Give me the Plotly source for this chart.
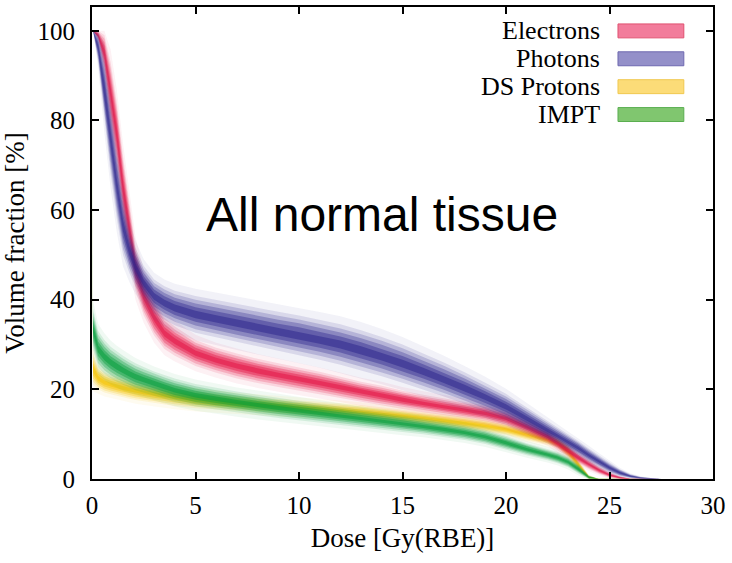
import plotly.graph_objects as go

# dose grid [Gy(RBE)] shared by all bands
DOSE = [0, 0.05, 0.3, 0.6, 0.9, 1.2, 1.5, 1.8, 2.1, 2.5, 3, 3.5, 4, 5, 6, 7, 8, 9, 10,
        11, 12, 13, 14, 15, 16, 17, 18, 19, 20, 21, 22, 22.5, 23, 23.5, 24, 24.5, 25,
        25.5, 26, 26.5, 27, 27.5]

# upper / lower edge of each DVH band (volume fraction %)
ELEC_HI = [100, 100, 100, 99, 93, 84, 72, 62, 52, 45, 40, 36, 34, 31, 29.3, 28, 26.8, 25.8, 24.9,
           23.9, 22.8, 21.7, 20.8, 19.7, 18.8, 18, 17.2, 16.4, 15.2, 13.2, 11, 9.4, 7.6, 5.8, 4.3,
           2.8, 1.5, 0.6, 0.1, 0, 0, 0]
ELEC_LO = [100, 100, 98, 91, 79, 70, 58, 50, 42, 36.5, 32, 29, 27.5, 25.2, 23.7, 22.4, 21.4, 20.5,
           19.7, 18.9, 18.1, 17.2, 16.4, 15.6, 14.9, 14.2, 13.6, 12.9, 11.8, 10, 8, 6.4, 5, 3.5,
           2.2, 1.1, 0.3, 0, 0, 0, 0, 0]

PHOT_HI = [100, 100, 99.5, 94, 84, 73, 63, 56, 51.5, 47.5, 44.5, 43, 42, 40.8, 39.9, 39, 38.2,
           37.3, 36.5, 35.5, 34.5, 33.2, 31.7, 30, 28, 26, 23.8, 21.5, 19, 16, 13, 11.5, 10, 8.5,
           6.8, 5.2, 3.6, 2.2, 1.1, 0.5, 0.2, 0]
PHOT_LO = [100, 100, 93, 80, 68, 58, 50, 46, 43, 40, 37, 35.5, 34.3, 32.6, 31.5, 30.5, 29.5, 28.5,
           27.6, 26.6, 25.5, 24.2, 22.9, 21.5, 20, 18.4, 16.8, 15, 13.2, 11, 8.8, 7.8, 6.6, 5.2,
           3.8, 2.5, 1.4, 0.6, 0.2, 0, 0, 0]

DSP_HI = [100, 28, 25, 23.8, 23.2, 22.8, 22.4, 22, 21.7, 21.3, 20.9, 20.5, 20.1, 19.5, 19, 18.6,
          18.2, 17.9, 17.6, 17.2, 16.9, 16.5, 16, 15.5, 15, 14.4, 13.9, 13.2, 12.3, 11.2, 10, 9.2,
          7.5, 4.2, 0.8, 0, 0, 0, 0, 0, 0, 0]
DSP_LO = [100, 21, 20, 19.3, 18.9, 18.5, 18.2, 17.9, 17.6, 17.3, 16.9, 16.6, 16.3, 15.8, 15.4,
          15.1, 14.8, 14.5, 14.3, 14, 13.7, 13.4, 13, 12.6, 12.1, 11.6, 11.1, 10.5, 9.8, 8.6, 7.6,
          7, 4.8, 2, 0, 0, 0, 0, 0, 0, 0, 0]

IMPT_HI = [100, 38, 33, 31, 29.5, 28.4, 27.5, 26.6, 25.8, 25, 24, 23.2, 22.4, 21.2, 20.3, 19.5,
           18.8, 18.1, 17.4, 16.7, 16, 15.4, 14.8, 14.2, 13.5, 12.8, 12, 11, 9.6, 8, 6.7, 6, 5,
           3.3, 0.8, 0, 0, 0, 0, 0, 0, 0]
IMPT_LO = [100, 29, 25, 23.5, 22.5, 21.7, 21, 20.4, 19.8, 19.2, 18.6, 17.9, 17.2, 16.2, 15.5,
           14.8, 14.2, 13.6, 13.1, 12.6, 12, 11.5, 11, 10.5, 10, 9.4, 8.7, 7.8, 6.6, 5.3, 4.2,
           3.5, 2.6, 1.2, 0, 0, 0, 0, 0, 0, 0, 0]

LEGEND_NAMES = ["Electrons", "Photons", "DS Protons", "IMPT"]
Y_TICKS = [0, 20, 40, 60, 80, 100]
X_TICKS = [0, 5, 10, 15, 20, 25, 30]

SERIF = "Liberation Serif, Times New Roman, serif"
SANS = "Liberation Sans, Arial, sans-serif"

# drawing order: protons first, photons last
BANDS = [
    (DSP_LO, DSP_HI, (245, 195, 0)),
    (IMPT_LO, IMPT_HI, (0, 155, 55)),
    (ELEC_LO, ELEC_HI, (228, 16, 66)),
    (PHOT_LO, PHOT_HI, (42, 36, 140)),
]
# (inset fraction, alpha): stacked insets give soft edges and a dense core,
# the negative inset is the faint halo outside the band
LAYERS = [(-0.2, 0.06), (0.0, 0.12), (0.1, 0.2), (0.2, 0.3), (0.3, 0.4), (0.4, 0.5)]

fig = go.Figure()
for lo, hi, rgb in BANDS:
    for t, a in LAYERS:
        up = [min(100, h - t * (h - l)) for l, h in zip(lo, hi)]
        dn = [l + t * (h - l) for l, h in zip(lo, hi)]
        fig.add_trace(go.Scatter(
            x=DOSE + DOSE[::-1], y=up + dn[::-1], fill="toself", mode="lines",
            line=dict(width=0), fillcolor=f"rgba({rgb[0]},{rgb[1]},{rgb[2]},{a})",
            hoverinfo="skip", showlegend=False))

# hand-made legend: text right-aligned, swatch on the right
SWATCH_FILL = ["#F27C9B", "#9490C9", "#FCDC78", "#80C66F"]
SWATCH_LINE = ["#E0506F", "#6E68B0", "#F0C850", "#5AAE50"]
PX_H = 474.0
row_centres = [29, 57, 85, 113]
for name, fcol, lcol, yc in zip(LEGEND_NAMES, SWATCH_FILL, SWATCH_LINE, row_centres):
    yp = (479 - yc) / PX_H
    fig.add_annotation(x=0.821, y=yp, xref="paper", yref="paper", text=name, showarrow=False,
                       xanchor="right", yanchor="middle", font=dict(family=SERIF, size=26, color="black"))
    fig.add_shape(type="rect", xref="paper", yref="paper", x0=0.847, x1=0.953,
                  y0=yp - 7 / PX_H, y1=yp + 7 / PX_H, fillcolor=fcol, line=dict(color=lcol, width=1))

fig.add_annotation(x=0.467, y=0.56, xref="paper", yref="paper", text="All normal tissue",
                   showarrow=False, font=dict(family=SANS, size=48, color="black"))

axis_common = dict(showline=True, linecolor="black", linewidth=2, mirror="ticks",
                   ticks="inside", ticklen=7, tickwidth=1.5, tickcolor="black",
                   showgrid=False, zeroline=False, tickfont=dict(family=SERIF, size=25, color="black"))
fig.update_xaxes(range=[0, 30], tickvals=X_TICKS, ticklabelstandoff=3,
                 title=dict(text="Dose [Gy(RBE)]", font=dict(family=SERIF, size=27, color="black"),
                            standoff=10), **axis_common)
fig.update_yaxes(range=[0, 105.3], tickvals=Y_TICKS, ticklabelstandoff=10,
                 title=dict(text="Volume fraction [%]", font=dict(family=SERIF, size=27, color="black"),
                            standoff=10), **axis_common)
fig.update_layout(width=732, height=563, margin=dict(l=92, r=19, t=5, b=84),
                  plot_bgcolor="white", paper_bgcolor="white", showlegend=False)
fig.write_html("out.html", config={"displayModeBar": False},
               post_script="document.body.style.margin='0';")
